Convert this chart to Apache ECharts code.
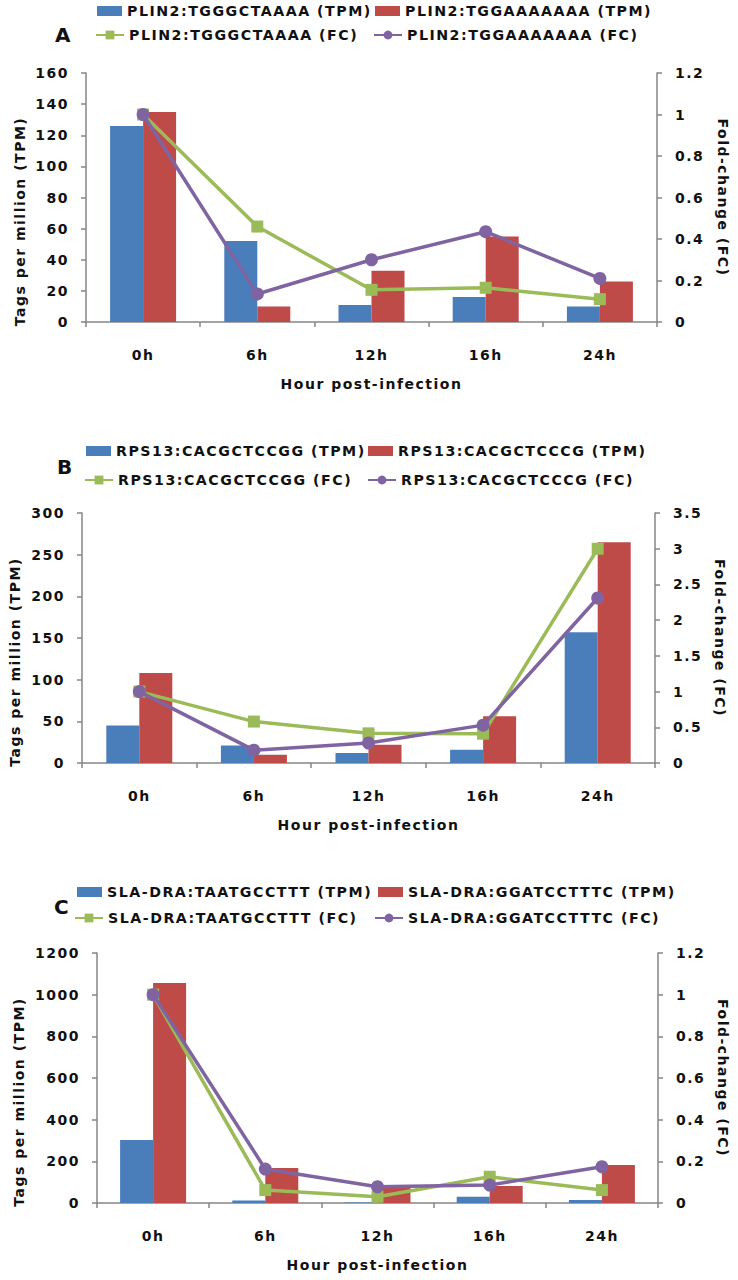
<!DOCTYPE html>
<html>
<head>
<meta charset="utf-8">
<script src="https://cdn.jsdelivr.net/npm/echarts@6/dist/echarts.min.js"></script>
<style>
html,body{margin:0;padding:0;background:#fff;}
#chart{width:738px;height:1280px;}
#chart svg text{letter-spacing:1.5px;}
#chart svg text[style*="14.2px"]{letter-spacing:1.5px;}
</style>
</head>
<body>
<div id="chart"></div>
<script>
// ---------- data ----------
const categories = ['0h', '6h', '12h', '16h', '24h'];

// Panel A
const aNames = ['PLIN2:TGGGCTAAAA (TPM)', 'PLIN2:TGGAAAAAAA (TPM)', 'PLIN2:TGGGCTAAAA (FC)', 'PLIN2:TGGAAAAAAA (FC)'];
const aTpm1 = [126, 52, 11, 16, 10];
const aTpm2 = [135, 10, 33, 55, 26];
const aFc1 = [1.0, 0.46, 0.155, 0.165, 0.11];
const aFc2 = [1.0, 0.135, 0.30, 0.435, 0.21];
const aLeftTicks = [0, 160, 20];
const aRightTicks = [0, 1.2, 0.2];

// Panel B
const bNames = ['RPS13:CACGCTCCGG (TPM)', 'RPS13:CACGCTCCCG (TPM)', 'RPS13:CACGCTCCGG (FC)', 'RPS13:CACGCTCCCG (FC)'];
const bTpm1 = [45, 21, 12, 16, 157];
const bTpm2 = [108, 10, 22, 56, 265];
const bFc1 = [1.0, 0.58, 0.415, 0.41, 3.0];
const bFc2 = [1.0, 0.18, 0.28, 0.53, 2.31];
const bLeftTicks = [0, 300, 50];
const bRightTicks = [0, 3.5, 0.5];

// Panel C
const cNames = ['SLA-DRA:TAATGCCTTT (TPM)', 'SLA-DRA:GGATCCTTTC (TPM)', 'SLA-DRA:TAATGCCTTT (FC)', 'SLA-DRA:GGATCCTTTC (FC)'];
const cTpm1 = [302, 12, 3, 30, 15];
const cTpm2 = [1056, 168, 78, 82, 182];
const cFc1 = [1.0, 0.062, 0.03, 0.126, 0.062];
const cFc2 = [1.0, 0.163, 0.078, 0.086, 0.174];
const cLeftTicks = [0, 1200, 200];
const cRightTicks = [0, 1.2, 0.2];

const panelLetters = ['A', 'B', 'C'];
const xTitle = 'Hour post-infection';
const yLeftTitle = 'Tags per million (TPM)';
const yRightTitle = 'Fold-change (FC)';

// ---------- styling / layout ----------
const FONT = 'DejaVu Sans';
const AXIS_GRAY = '#868686';
const COLORS = ['#4A7EBB', '#BE4B48', '#9BBB59', '#8064A2'];

const panels = [
  {names: aNames, tpm1: aTpm1, tpm2: aTpm2, fc1: aFc1, fc2: aFc2, lt: aLeftTicks, rt: aRightTicks,
   grid: {left: 86, right: 77, top: 73, height: 249}, leftGap: 59, rightGap: 59,
   letter: [63, 36], legRow: [12, 36], legX: [[97, 375], [95, 373]]},
  {names: bNames, tpm1: bTpm1, tpm2: bTpm2, fc1: bFc1, fc2: bFc2, lt: bLeftTicks, rt: bRightTicks,
   grid: {left: 79, right: 83, top: 513, height: 250}, leftGap: 60, rightGap: 58,
   letter: [65, 468], legRow: [452, 481], legX: [[86, 368], [84, 367]]},
  {names: cNames, tpm1: cTpm1, tpm2: cTpm2, fc1: cFc1, fc2: cFc2, lt: cLeftTicks, rt: cRightTicks,
   grid: {left: 97, right: 76, top: 953, height: 250}, leftGap: 71, rightGap: 58,
   letter: [62, 908], legRow: [893, 919], legX: [[77, 378], [74, 374]]}
];

const grids = [], xAxes = [], yAxes = [], series = [], legends = [], graphics = [];

const axisLine = {show: true, lineStyle: {color: AXIS_GRAY, width: 1.5}};
const axisTick = {show: true, inside: false, length: 5, lineStyle: {color: AXIS_GRAY, width: 1.5}};
const labelStyle = {color: '#111', fontFamily: FONT, fontWeight: 'bold', fontSize: 14};
const plainNum = v => String(Math.round(v * 1000) / 1000);

panels.forEach((p, i) => {
  grids.push(Object.assign({containLabel: false}, p.grid));
  xAxes.push({
    type: 'category', gridIndex: i, data: categories,
    axisLine, axisTick: Object.assign({alignWithLabel: false}, axisTick),
    axisLabel: Object.assign({margin: 26}, labelStyle),
    splitLine: {show: false},
    name: xTitle, nameLocation: 'middle', nameGap: 55,
    nameTextStyle: Object.assign({}, labelStyle)
  });
  yAxes.push({
    type: 'value', gridIndex: i, position: 'left',
    min: p.lt[0], max: p.lt[1], interval: p.lt[2],
    axisLine, axisTick, splitLine: {show: false},
    axisLabel: Object.assign({margin: 17, formatter: plainNum}, labelStyle),
    name: yLeftTitle, nameLocation: 'middle', nameGap: p.leftGap, nameRotate: 90,
    nameTextStyle: Object.assign({padding: [0, 48, 0, 0]}, labelStyle)
  });
  yAxes.push({
    type: 'value', gridIndex: i, position: 'right',
    min: p.rt[0], max: p.rt[1], interval: p.rt[2],
    axisLine, axisTick, splitLine: {show: false},
    axisLabel: Object.assign({margin: 18, formatter: plainNum}, labelStyle),
    name: yRightTitle, nameLocation: 'middle', nameGap: p.rightGap, nameRotate: -90,
    nameTextStyle: Object.assign({}, labelStyle)
  });
  const yl = i * 2, yr = i * 2 + 1;
  series.push({name: p.names[0], type: 'bar', xAxisIndex: i, yAxisIndex: yl, data: p.tpm1,
    barWidth: 33, barGap: '0%', itemStyle: {color: COLORS[0]}, z: 2});
  series.push({name: p.names[1], type: 'bar', xAxisIndex: i, yAxisIndex: yl, data: p.tpm2,
    barWidth: 33, barGap: '0%', itemStyle: {color: COLORS[1]}, z: 2});
  series.push({name: p.names[2], type: 'line', xAxisIndex: i, yAxisIndex: yr, data: p.fc1,
    symbol: 'rect', symbolSize: 12, lineStyle: {color: COLORS[2], width: 3.5},
    itemStyle: {color: COLORS[2]}, z: 3});
  series.push({name: p.names[3], type: 'line', xAxisIndex: i, yAxisIndex: yr, data: p.fc2,
    symbol: 'circle', symbolSize: 13, lineStyle: {color: COLORS[3], width: 3.5},
    itemStyle: {color: COLORS[3]}, z: 4});

  const legText = {color: '#111', fontFamily: FONT, fontWeight: 'bold', fontSize: 14.2};
  [0, 1].forEach(k => {
    legends.push({data: [{name: p.names[k], icon: 'rect'}], left: p.legX[0][k], top: p.legRow[0] - 8,
      itemWidth: 25, itemHeight: 10, padding: 0, textStyle: legText, selectedMode: false});
  });
  [2, 3].forEach(k => {
    legends.push({data: [p.names[k]], left: p.legX[1][k - 2], top: p.legRow[1] - 8,
      itemWidth: 28, itemHeight: 11, padding: 0, textStyle: legText, selectedMode: false});
  });
  graphics.push({type: 'text', left: p.letter[0] - 8, top: p.letter[1] - 11,
    style: {text: panelLetters[i], fontFamily: FONT, fontWeight: 'bold', fontSize: 20, fill: '#111'}});
});

const chart = echarts.init(document.getElementById('chart'), null, {renderer: 'svg', width: 738, height: 1280});
chart.setOption({
  animation: false,
  backgroundColor: '#fff',
  grid: grids, xAxis: xAxes, yAxis: yAxes, series, legend: legends, graphic: graphics
});
</script>
</body>
</html>
